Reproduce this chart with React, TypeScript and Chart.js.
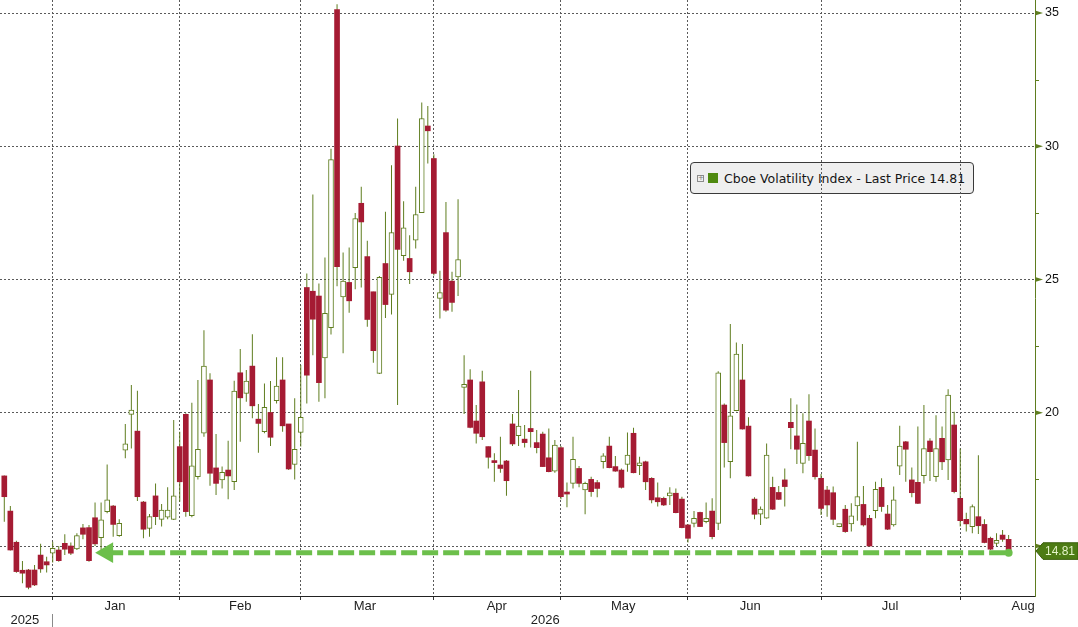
import React, { useEffect, useRef } from 'react';
import { Chart, registerables } from 'chart.js';

Chart.register(...registerables);

// ---------- data ----------
const seriesName = 'Cboe Volatility Index - Last Price';
const lastPrice = 14.81;

const openP = [
  17.63, 16.31, 15.14, 14.09, 14.10, 14.10, 14.66, 14.41, 14.73, 14.85,
  15.10, 15.00, 14.89, 15.68, 15.69, 16.06, 15.31, 16.29, 16.50, 15.39,
  18.60, 19.94, 19.31, 16.65, 15.66, 16.88, 16.00, 16.08, 16.00, 18.73,
  19.94, 16.14, 17.60, 19.23, 21.23, 17.93, 17.48, 17.85, 17.41, 21.50,
  20.73, 21.75, 19.76, 19.29, 20.01, 20.45, 21.23, 19.58, 18.06, 19.26,
  24.70, 24.56, 24.38, 22.06, 23.19, 35.13, 24.35, 24.89, 25.44, 27.86,
  25.86, 24.54, 21.48, 25.60, 24.44, 30.01, 25.89, 25.79, 26.48, 27.51,
  30.76, 29.54, 24.29, 26.76, 24.94, 25.10, 20.95, 21.23, 19.69, 21.16,
  18.73, 18.19, 18.04, 18.19, 19.58, 19.14, 19.01, 19.41, 18.88, 19.20,
  18.31, 17.81, 18.69, 16.98, 17.35, 17.91, 17.10, 17.50, 17.38, 18.16,
  18.75, 17.98, 17.85, 18.06, 19.23, 18.01, 18.16, 17.54, 16.81, 16.79,
  16.88, 16.98, 16.76, 15.79, 15.85, 16.26, 15.91, 16.31, 15.85, 20.29,
  18.16, 20.08, 21.23, 19.50, 16.76, 16.19, 16.04, 17.20, 17.01, 17.48,
  19.64, 19.13, 18.10, 19.69, 18.60, 17.54, 17.10, 17.00, 15.73, 16.38,
  15.83, 16.50, 16.56, 16.04, 16.33, 17.20, 16.20, 15.79, 18.00, 18.91,
  17.48, 17.39, 17.64, 18.94, 17.60, 19.04, 18.23, 19.54, 16.79, 16.00,
  15.73, 16.10, 15.81, 15.29, 15.10, 15.41, 15.25,
];
const highP = [
  17.65, 16.50, 15.20, 14.44, 14.14, 14.29, 15.08, 14.60, 15.16, 15.00,
  15.44, 15.13, 15.48, 15.83, 15.79, 16.63, 16.63, 18.06, 16.54, 16.00,
  19.58, 21.04, 20.83, 16.69, 16.20, 17.35, 16.58, 17.20, 19.73, 19.29,
  19.98, 20.38, 21.23, 23.10, 21.48, 19.20, 17.98, 18.95, 21.20, 22.39,
  21.60, 22.95, 20.33, 21.10, 21.19, 22.08, 22.08, 19.58, 20.54, 21.79,
  25.23, 28.19, 24.85, 25.83, 29.91, 35.33, 26.01, 26.20, 27.50, 28.48,
  26.45, 24.54, 25.13, 27.54, 29.29, 31.04, 27.94, 26.66, 28.48, 31.64,
  31.51, 29.70, 25.33, 27.91, 25.29, 28.01, 22.16, 21.63, 20.29, 21.58,
  18.73, 18.48, 19.10, 18.23, 19.95, 20.85, 19.54, 21.58, 19.35, 19.29,
  19.41, 18.98, 18.75, 17.38, 19.10, 18.00, 17.41, 17.60, 17.48, 18.48,
  19.10, 18.38, 17.91, 19.26, 19.44, 18.35, 18.20, 17.58, 17.38, 16.85,
  17.20, 17.16, 16.85, 15.83, 16.31, 16.29, 16.63, 16.79, 21.56, 20.35,
  23.33, 22.64, 22.58, 19.83, 16.83, 16.48, 18.85, 17.60, 17.25, 17.91,
  20.54, 20.31, 19.98, 20.69, 19.41, 17.70, 17.25, 17.23, 15.80, 16.54,
  16.60, 18.91, 17.25, 16.16, 17.41, 17.54, 16.54, 17.23, 19.51, 18.94,
  17.95, 19.48, 20.29, 19.04, 19.91, 19.48, 20.88, 20.04, 18.66, 16.25,
  16.56, 18.41, 16.00, 15.35, 15.48, 15.60, 15.41,
];
const lowP = [
  15.91, 14.83, 14.00, 13.60, 13.38, 13.50, 14.00, 14.01, 14.38, 14.41,
  14.66, 14.66, 14.85, 15.25, 14.41, 15.00, 14.79, 16.23, 15.35, 15.35,
  18.29, 18.66, 16.69, 15.29, 15.35, 15.79, 15.73, 16.00, 15.98, 16.66,
  16.10, 16.08, 17.50, 19.10, 17.26, 16.91, 17.16, 16.75, 17.10, 18.91,
  20.41, 19.79, 18.50, 19.23, 18.75, 20.35, 19.29, 17.85, 17.50, 18.73,
  20.35, 22.16, 20.41, 20.54, 22.94, 24.75, 22.23, 23.75, 24.63, 24.70,
  23.23, 21.88, 21.45, 23.56, 23.69, 20.29, 25.70, 24.83, 26.16, 27.50,
  29.35, 25.15, 23.54, 23.79, 23.79, 24.38, 19.95, 19.42, 18.85, 18.98,
  17.91, 17.41, 17.75, 16.89, 18.75, 18.75, 18.70, 18.70, 18.48, 17.96,
  17.77, 17.75, 16.75, 16.45, 17.16, 17.20, 16.19, 16.85, 16.83, 17.91,
  17.92, 17.79, 17.16, 17.79, 17.73, 17.66, 17.10, 16.60, 16.48, 16.50,
  16.54, 16.23, 15.67, 15.13, 15.70, 15.71, 15.85, 15.25, 15.60, 17.95,
  17.54, 20.06, 19.37, 17.61, 16.00, 15.79, 16.02, 16.35, 16.73, 16.48,
  18.63, 18.08, 17.73, 18.20, 17.50, 16.16, 16.10, 15.79, 15.70, 15.50,
  15.54, 15.95, 15.73, 14.98, 16.04, 16.29, 15.60, 15.73, 17.66, 17.41,
  16.83, 16.58, 17.35, 17.44, 17.41, 17.85, 17.48, 16.98, 15.73, 15.54,
  15.48, 15.45, 15.10, 14.85, 15.00, 15.16, 14.78,
];
const closeP = [
  16.85, 14.85, 14.04, 13.98, 13.45, 13.54, 14.14, 14.29, 14.91, 14.45,
  14.88, 14.73, 15.39, 15.44, 14.45, 15.08, 15.98, 16.73, 15.81, 15.85,
  18.83, 20.10, 16.85, 15.63, 16.10, 16.10, 16.35, 16.35, 16.88, 17.41,
  16.29, 18.01, 18.63, 21.75, 17.73, 17.35, 17.76, 17.63, 20.81, 20.56,
  21.19, 20.26, 19.60, 20.20, 19.08, 21.00, 19.51, 17.89, 18.63, 19.83,
  21.41, 23.51, 21.13, 23.73, 29.50, 25.48, 24.94, 24.20, 27.29, 27.16,
  23.50, 22.33, 25.08, 24.06, 26.76, 26.13, 26.94, 25.29, 27.44, 31.04,
  30.58, 25.23, 24.51, 23.85, 24.14, 25.75, 21.04, 19.45, 19.23, 19.10,
  18.33, 18.13, 17.91, 17.45, 18.83, 19.50, 18.88, 19.29, 18.69, 17.98,
  17.79, 18.79, 16.85, 16.95, 18.25, 17.35, 17.35, 17.04, 17.16, 18.38,
  17.94, 17.81, 17.20, 18.41, 17.75, 18.04, 17.41, 16.73, 16.66, 16.54,
  16.98, 16.25, 15.69, 15.29, 16.04, 15.73, 16.04, 15.35, 21.50, 18.88,
  19.88, 22.20, 19.39, 17.63, 16.19, 16.39, 18.41, 16.38, 16.75, 17.23,
  19.44, 18.63, 18.85, 18.39, 17.60, 16.41, 16.54, 16.00, 15.78, 15.54,
  16.13, 16.85, 15.79, 15.00, 17.13, 16.48, 15.63, 16.73, 18.75, 18.63,
  17.00, 16.60, 18.66, 18.54, 18.66, 18.16, 20.66, 17.04, 15.95, 15.83,
  16.48, 15.76, 15.13, 14.88, 15.20, 15.25, 14.81,
];

const monthStartIdx = [8, 29, 49, 71, 92, 113, 135, 158];
const monthLabels = ['Jan', 'Feb', 'Mar', 'Apr', 'May', 'Jun', 'Jul', 'Aug'];
const monthLabelIdx = [18.3, 39, 59.6, 81.4, 102.3, 123.3, 146.4, 168.4];
const yearLabels = ['2025', '', '2026'];
const yearLabelIdx = [3.4, 8, 89.4];
const yearSepIdx = 8;
const yMajorTicks = [15, 20, 25, 30, 35];
const yMinorTicks = [17.5, 22.5, 27.5, 32.5];
const arrowLevel = 14.75;
const arrowFromIdx = 17;
const arrowToIdx = 166;
const xMin = -0.71;
const xMax = 170.36;
const yMin = 13.124;
const yMax = 35.488;

// ---------- styles ----------
const RED = '#a51b33';
const OLIVE = '#5f7d1f';
const ARROW_GREEN = '#6cbf4b';
const GRID = '#5a5a5a';
const FONT = 'Liberation Sans';

const axisDecor = {
  id: 'axisDecor',
  afterDraw(chart: any) {
    const { ctx, chartArea, scales } = chart;
    const ys = scales.y;
    const xr = chartArea.right;
    ctx.save();
    ctx.fillStyle = OLIVE;
    yMajorTicks.forEach((v) => {
      const py = ys.getPixelForValue(v);
      ctx.beginPath();
      ctx.moveTo(xr, py - 2.5);
      ctx.lineTo(xr + 8, py);
      ctx.lineTo(xr, py + 2.5);
      ctx.closePath();
      ctx.fill();
    });
    ctx.strokeStyle = OLIVE;
    ctx.lineWidth = 1;
    yMinorTicks.forEach((v) => {
      const py = Math.round(ys.getPixelForValue(v)) + 0.5;
      ctx.beginPath();
      ctx.moveTo(xr, py);
      ctx.lineTo(xr + 4, py);
      ctx.stroke();
    });
    const ty = ys.getPixelForValue(lastPrice);
    ctx.beginPath();
    ctx.moveTo(xr + 1, ty);
    ctx.lineTo(xr + 8, ty - 8.3);
    ctx.lineTo(chart.width, ty - 8.3);
    ctx.lineTo(chart.width, ty + 8.3);
    ctx.lineTo(xr + 8, ty + 8.3);
    ctx.closePath();
    ctx.fillStyle = '#4d7c14';
    ctx.fill();
    ctx.strokeStyle = '#3a5e0c';
    ctx.stroke();
    ctx.fillStyle = '#e4f4c8';
    ctx.font = `12px "${FONT}"`;
    ctx.textBaseline = 'middle';
    ctx.textAlign = 'left';
    ctx.fillText(lastPrice.toFixed(2), xr + 10, ty + 0.5);
    ctx.restore();
  },
};

const xCommon = {
  type: 'linear',
  position: 'bottom',
  min: xMin,
  max: xMax,
  bounds: 'data',
  offset: false,
};

export default function App() {
  const ref = useRef<HTMLCanvasElement>(null);

  useEffect(() => {
    const idx = openP.map((_, i) => i);
    const upIdx = idx.filter((i) => closeP[i] >= openP[i]);
    const downIdx = idx.filter((i) => closeP[i] < openP[i]);

    const chart = new Chart(ref.current as HTMLCanvasElement, {
      type: 'bar',
      data: {
        datasets: [
          {
            type: 'line',
            order: 0,
            xAxisID: 'x',
            yAxisID: 'y',
            data: [
              { x: arrowFromIdx, y: arrowLevel },
              { x: arrowToIdx, y: arrowLevel },
            ],
            borderColor: ARROW_GREEN,
            borderWidth: 5,
            borderDash: [16, 5],
            borderCapStyle: 'butt',
            pointStyle: ['triangle', 'circle'],
            pointRadius: [12, 4],
            pointRotation: [-90, 0],
            pointBackgroundColor: ARROW_GREEN,
            pointBorderColor: ARROW_GREEN,
            pointBorderWidth: 0,
            fill: false,
            tension: 0,
          } as any,
          {
            type: 'bar',
            order: 1,
            xAxisID: 'x',
            yAxisID: 'y',
            data: downIdx.map((i) => ({ x: i, y: [openP[i], closeP[i]] })),
            backgroundColor: RED,
            borderWidth: 0,
            barThickness: 5,
            grouped: false,
            minBarLength: 2,
          } as any,
          {
            type: 'bar',
            order: 1,
            xAxisID: 'x',
            yAxisID: 'y',
            data: upIdx.map((i) => ({ x: i, y: [openP[i], closeP[i]] })),
            backgroundColor: '#ffffff',
            borderColor: OLIVE,
            borderWidth: 1,
            borderSkipped: false,
            barThickness: 5,
            grouped: false,
            minBarLength: 3,
          } as any,
          {
            type: 'bar',
            order: 2,
            xAxisID: 'x',
            yAxisID: 'y',
            data: idx.map((i) => ({ x: i, y: [lowP[i], highP[i]] })),
            backgroundColor: OLIVE,
            borderWidth: 0,
            barThickness: 1,
            grouped: false,
            inflateAmount: 0,
          } as any,
        ],
      },
      options: {
        responsive: false,
        animation: false,
        layout: { padding: 0, autoPadding: false },
        plugins: {
          legend: { display: false },
          tooltip: { enabled: false },
        },
        scales: {
          x: {
            ...xCommon,
            weight: 0,
            afterBuildTicks: (s: any) => {
              s.ticks = monthStartIdx.map((v) => ({ value: v }));
            },
            afterFit: (s: any) => {
              s.height = 4;
              s.paddingLeft = 0;
              s.paddingRight = 0;
            },
            ticks: { display: false, autoSkip: false },
            grid: {
              offset: false,
              color: GRID,
              lineWidth: 1,
              drawTicks: true,
              tickLength: 4,
              tickColor: '#333',
            },
            border: { display: true, color: '#222', width: 1, dash: [2, 2] },
          },
          xm: {
            ...xCommon,
            weight: 1,
            afterBuildTicks: (s: any) => {
              s.ticks = monthLabelIdx.map((v) => ({ value: v }));
            },
            afterFit: (s: any) => {
              s.height = 14;
              s.paddingLeft = 0;
              s.paddingRight = 0;
            },
            ticks: {
              autoSkip: false,
              maxRotation: 0,
              padding: -1,
              color: '#1e1e1e',
              font: { family: FONT, size: 13 },
              callback: (_v: any, i: number) => monthLabels[i],
            },
            grid: { display: false, drawTicks: false, offset: false },
            border: { display: false },
          },
          xy: {
            ...xCommon,
            weight: 2,
            afterBuildTicks: (s: any) => {
              s.ticks = yearLabelIdx.map((v) => ({ value: v }));
            },
            afterFit: (s: any) => {
              s.height = 13;
              s.paddingLeft = 0;
              s.paddingRight = 0;
            },
            ticks: {
              autoSkip: false,
              maxRotation: 0,
              padding: -14,
              color: '#1e1e1e',
              font: { family: FONT, size: 13 },
              callback: (_v: any, i: number) => yearLabels[i],
            },
            grid: {
              display: true,
              offset: false,
              drawOnChartArea: false,
              drawTicks: true,
              tickLength: 13,
              color: (c: any) =>
                c.tick && c.tick.value === yearSepIdx ? '#8a8a8a' : 'rgba(0,0,0,0)',
            },
            border: { display: false },
          },
          y: {
            type: 'linear',
            position: 'right',
            min: yMin,
            max: yMax,
            bounds: 'data',
            beginAtZero: false,
            afterBuildTicks: (s: any) => {
              s.ticks = yMajorTicks.map((v) => ({ value: v }));
            },
            afterFit: (s: any) => {
              s.width = 43;
              s.paddingTop = 0;
              s.paddingBottom = 0;
            },
            ticks: {
              autoSkip: false,
              padding: 10,
              color: '#111',
              font: { family: FONT, size: 12.5 },
              callback: (v: any) => (v === 15 ? '' : String(v)),
            },
            grid: { color: GRID, lineWidth: 1, drawTicks: false },
            border: { display: true, color: OLIVE, width: 1, dash: [2, 2] },
          },
        },
      } as any,
      plugins: [axisDecor],
    });
    return () => chart.destroy();
  }, []);

  return (
    <div
      style={{
        position: 'absolute',
        left: 0,
        top: 0,
        width: 1078,
        height: 627,
        background: '#ffffff',
        overflow: 'hidden',
      }}
    >
      <div
        style={{
          position: 'absolute',
          left: 690,
          top: 162,
          width: 284,
          height: 32,
          boxSizing: 'border-box',
          border: '1px solid #3a3a3a',
          borderRadius: 4,
          background: '#efefef',
          display: 'flex',
          alignItems: 'center',
          fontFamily: 'DejaVu Sans',
          fontSize: 12.5,
          color: '#151515',
          whiteSpace: 'nowrap',
        }}
      >
        <span
          style={{
            marginLeft: 6,
            width: 7,
            height: 7,
            boxSizing: 'border-box',
            border: '1px solid #8c8c8c',
            fontSize: 7,
            lineHeight: '5px',
            textAlign: 'center',
            color: '#777',
          }}
        >
          +
        </span>
        <span
          style={{
            marginLeft: 4,
            width: 10,
            height: 10,
            background: '#4f8a10',
            display: 'inline-block',
          }}
        />
        <span style={{ marginLeft: 6 }}>
          {seriesName} {lastPrice.toFixed(2)}
        </span>
      </div>
      <canvas
        ref={ref}
        width={1078}
        height={627}
        style={{ position: 'absolute', left: 0, top: 0, width: 1078, height: 627, display: 'block' }}
      />
    </div>
  );
}
